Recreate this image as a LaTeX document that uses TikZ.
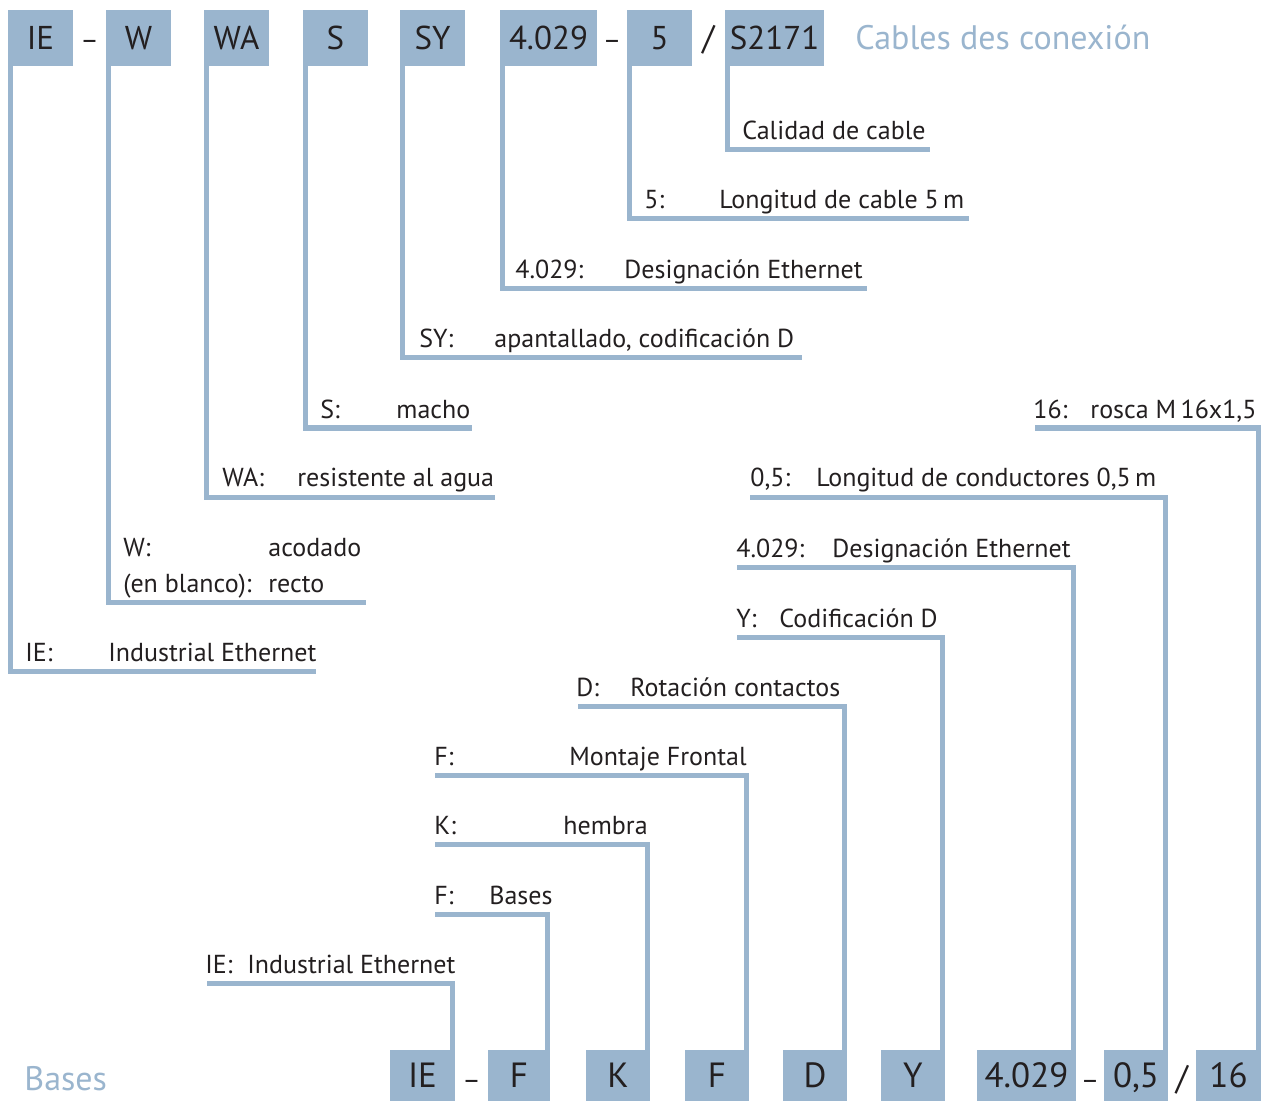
\documentclass[tikz,border=0pt]{standalone}
\usepackage{fontspec}
\setmainfont{PT Sans}
\definecolor{ieblue}{RGB}{154,181,206}
\definecolor{ink}{RGB}{35,31,32}
\begin{document}
\begin{tikzpicture}[x=0.5pt,y=-0.5pt,
	box/.style={fill=ieblue, inner sep=0pt, text=ink, text height=11.5pt, text depth=0pt, font=\fontsize{16.5}{18}\selectfont},
	conn/.style={draw=ieblue, line width=2.5pt},
	lab/.style={anchor=base west, inner sep=0pt, text=ink, font=\fontsize{13}{15}\selectfont},
	sep/.style={anchor=base, inner sep=0pt, text=ink, font=\fontsize{14}{18}\selectfont},
	slash/.style={anchor=base, inner sep=0pt, text=ink, font=\fontsize{17}{18}\selectfont},
	ttl/.style={anchor=base west, inner sep=0pt, text=ieblue, font=\fontsize{17}{20}\selectfont}]
	\useasboundingbox (0,0) rectangle (1263,1101);
	\foreach \n/\t/\l/\r in {tIE/IE/8/73, tW/W/106/171, tWA/WA/204/269, tS/S/303/368, tSY/SY/400/465, tNum/4.029/500/597, tLen/5/627/692, tCab/S2171/725/824}
		\node[box, minimum width={(\r-\l)*0.5pt}, minimum height=28pt] (\n) at ({(\l+\r)/2},38) {\t};
	\foreach \n/\t/\l/\r in {bIE/IE/390/455, bF/F/488/550, bK/K/586/650, bMF/F/685/749, bD/D/783/847, bY/Y/881/945, bNum/4.029/977/1076, bLen/{0,5}/1104/1168, bM/16/1196/1261}
		\node[box, font=\fontsize{17.5}{19}\selectfont, text height=12.3pt, minimum width={(\r-\l)*0.5pt}, minimum height=25.5pt] (\n) at ({(\l+\r)/2},1075.5) {\t};
	\node[sep] (s1) at (89.5,50) {–};
	\node[sep] (s2) at (612,50) {–};
	\node[slash] (s3) at (708.5,50) {/};
	\node[sep] (s4) at (471.5,1089) {–};
	\node[sep] (s5) at (1090,1089) {–};
	\node[slash] (s6) at (1182,1089) {/};
	\node[ttl] (cables) at (855,50) {Cables des conexión};
	\node[ttl] (bases) at (24,1090) {Bases};
	\foreach \n/\y/\e in {tIE/671/316, tW/602/366, tWA/497/495, tS/428/472, tSY/358/802, tNum/289/867, tLen/219/969, tCab/150/930}{
		\coordinate (e\n) at (\e,\y);
		\draw[conn] ([xshift=1.25pt]\n.south west) |- (e\n);
	}
	\foreach \n/\y/\e in {bIE/983/207, bF/914/435, bK/844/435, bMF/775/435, bD/706/578, bY/637/737, bNum/567/737, bLen/497/750, bM/428/1035}{
		\coordinate (e\n) at (\e,\y);
		\draw[conn] ([xshift=-1.25pt]\n.north east) |- (e\n);
	}
	\node[lab] (cal) at (742,140) {Calidad de cable};
	\foreach \k/\xk/\d/\xd/\y [count=\i] in {5:/644/Longitud de cable 5\,m/719/209, 4.029:/515/Designación Ethernet/624/279, SY:/419/{apantallado, codificación D}/494/348, S:/320/macho/396/418, WA:/222/resistente al agua/297/487, W:/123/acodado/268/556, (en blanco):/123/recto/268/592, IE:/25/Industrial Ethernet/108/661, 16:/1033/{rosca M\,16x1,5}/1090/418, {0,5:}/750/{Longitud de conductores 0,5\,m}/816/487, 4.029:/736/Designación Ethernet/832/557, Y:/736/Codificación D/779/627, D:/576/Rotación contactos/630/696, F:/434/Montaje Frontal/569/765, K:/434/hembra/563/834, F:/434/Bases/489/904, IE:/205/Industrial Ethernet/247/973}{
		\node[lab] (key\i) at (\xk,\y) {\k};
		\node[lab] (txt\i) at (\xd,\y) {\d};
	}
\end{tikzpicture}
\end{document}
